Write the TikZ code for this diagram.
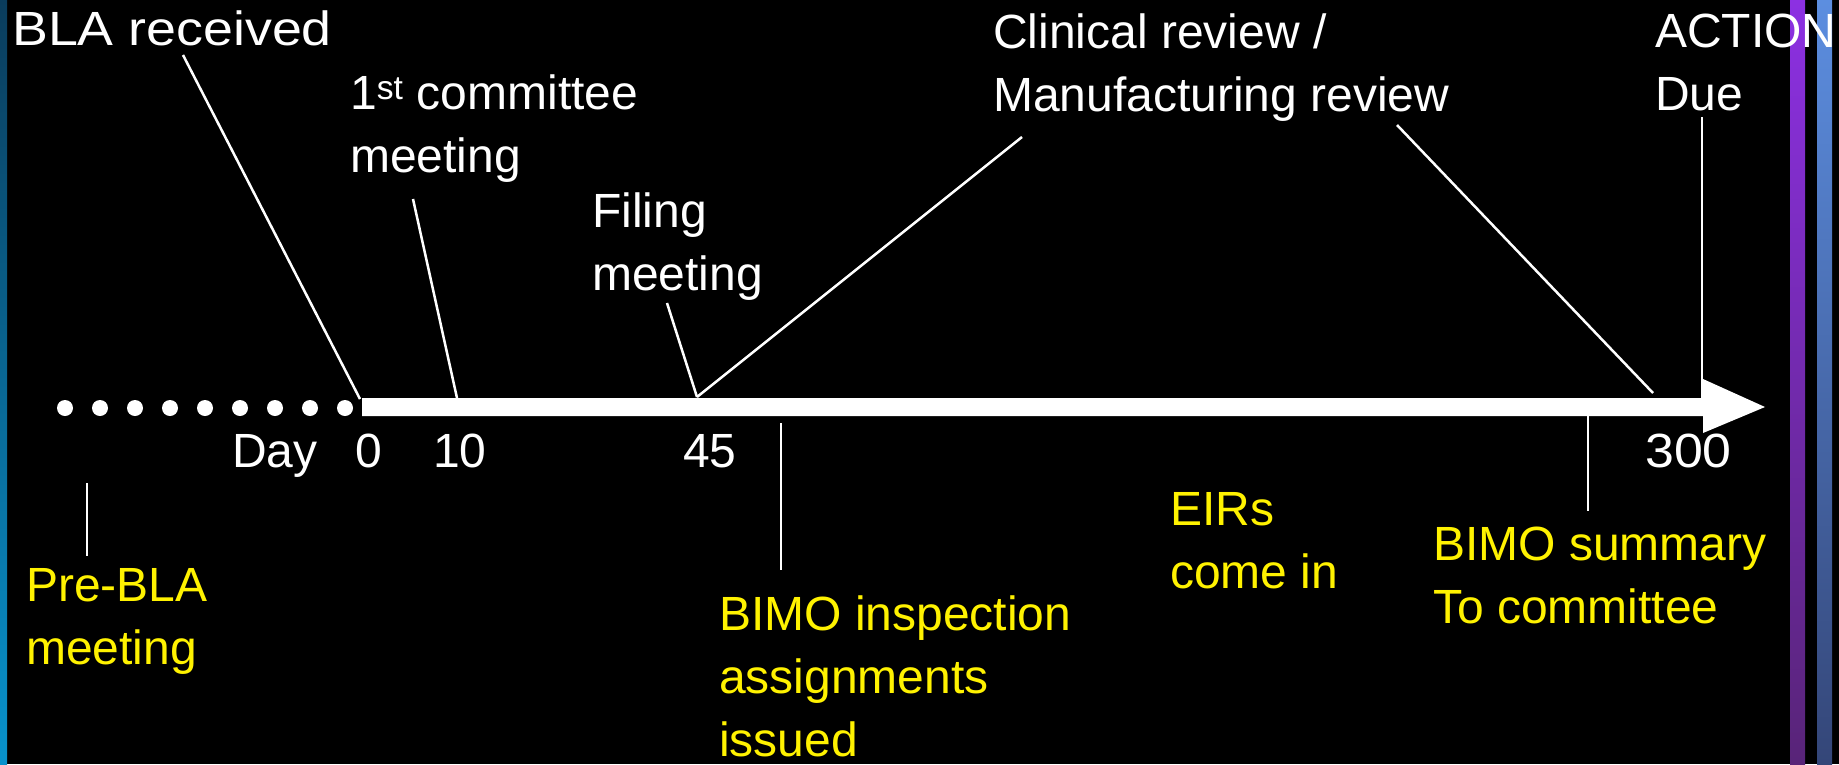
\documentclass[tikz,border=0pt]{standalone}
\usepackage{fontspec}
\setmainfont{Liberation Sans}

\tikzset{
	lbl/.style={anchor=base west, inner sep=0pt, text=white, align=left, font=\fontsize{48}{63}\selectfont},
	ylbl/.style={lbl, text=yellow},
	pin/.style={draw=white, line width=2.5pt},
}

\begin{document}
\begin{tikzpicture}[x=1pt,y=-1pt]
		\useasboundingbox (0,0) rectangle (1839,764);
		\fill[black] (0,0) rectangle (1839,764);
		% side bars
		\shade[top color={rgb,255:red,10;green,60;blue,92}, bottom color={rgb,255:red,8;green,146;blue,204}] (0,0) rectangle (7,764);
		\shade[top color={rgb,255:red,140;green,48;blue,226}, bottom color={rgb,255:red,88;green,36;blue,120}] (1790,0) rectangle (1805,764);
		\shade[top color={rgb,255:red,92;green,142;blue,224}, bottom color={rgb,255:red,52;green,70;blue,120}] (1817,0) rectangle (1832,764);
		
		% time line
		\foreach \i in {0,...,8} \fill[white] (65+35*\i,408) circle [radius=8];
		\fill[white] (362,398) -- (1703,398) -- (1703,379) -- (1765,407) -- (1703,433) -- (1703,416) -- (362,416) -- cycle;
		\coordinate (t0) at (360,399); \coordinate (t10) at (457,398);
		\coordinate (t45) at (697,397); \coordinate (t280) at (1653,393);
		\coordinate (t300) at (1702,399);
		
		\node[lbl] (day) at (232,467) {Day}; \node[lbl] (n0) at (355,467) {0};
		\node[lbl] (n10) at (433,467) {10}; \node[lbl] (n45) at (683,467) {45};
		\node[lbl] (n300) at (1645,467) {\addfontfeatures{FakeStretch=1.08}300};
		
		% above the line (base = last line)
		\node[lbl] (received) at (12,45) {\addfontfeatures{FakeStretch=1.12}BLA received};
		\node[lbl] (committee) at (350,172) {1\textsuperscript{st} committee\\meeting};
		\node[lbl] (filing) at (592,290) {Filing\\meeting};
		\node[lbl] (review) at (993,111) {Clinical review /\\Manufacturing review};
		\node[lbl] (action) at (1655,110) {ACTION\\Due};
		\coordinate (rcv) at (183,55); \coordinate (cmt) at (413,199);
		\coordinate (fil) at (667,303); \coordinate (cln) at (1022,137);
		\coordinate (mfg) at (1397,125); \coordinate (due) at (1702,117);
		\draw[pin] (rcv) -- (t0); \draw[pin] (cmt) -- (t10);
		\draw[pin] (fil) -- (t45); \draw[pin] (cln) -- (t45);
		\draw[pin] (mfg) -- (t280); \draw[pin] (due) -- (t300);
		
		% below the line
		\node[ylbl] (prebla) at (26,664) {Pre-BLA\\meeting};
		\node[ylbl] (inspect) at (719,756) {BIMO inspection\\assignments\\issued};
		\node[ylbl] (eirs) at (1170,588) {EIRs\\come in};
		\node[ylbl] (summary) at (1433,623) {BIMO summary\\To committee};
		\coordinate (pre) at (87,483); \coordinate (pre') at (87,556);
		\coordinate (ins) at (781,423); \coordinate (ins') at (781,570);
		\coordinate (sum) at (1588,416); \coordinate (sum') at (1588,511);
		\draw[pin] (pre) -- (pre'); \draw[pin] (ins) -- (ins'); \draw[pin] (sum) -- (sum');
\end{tikzpicture}
\end{document}
